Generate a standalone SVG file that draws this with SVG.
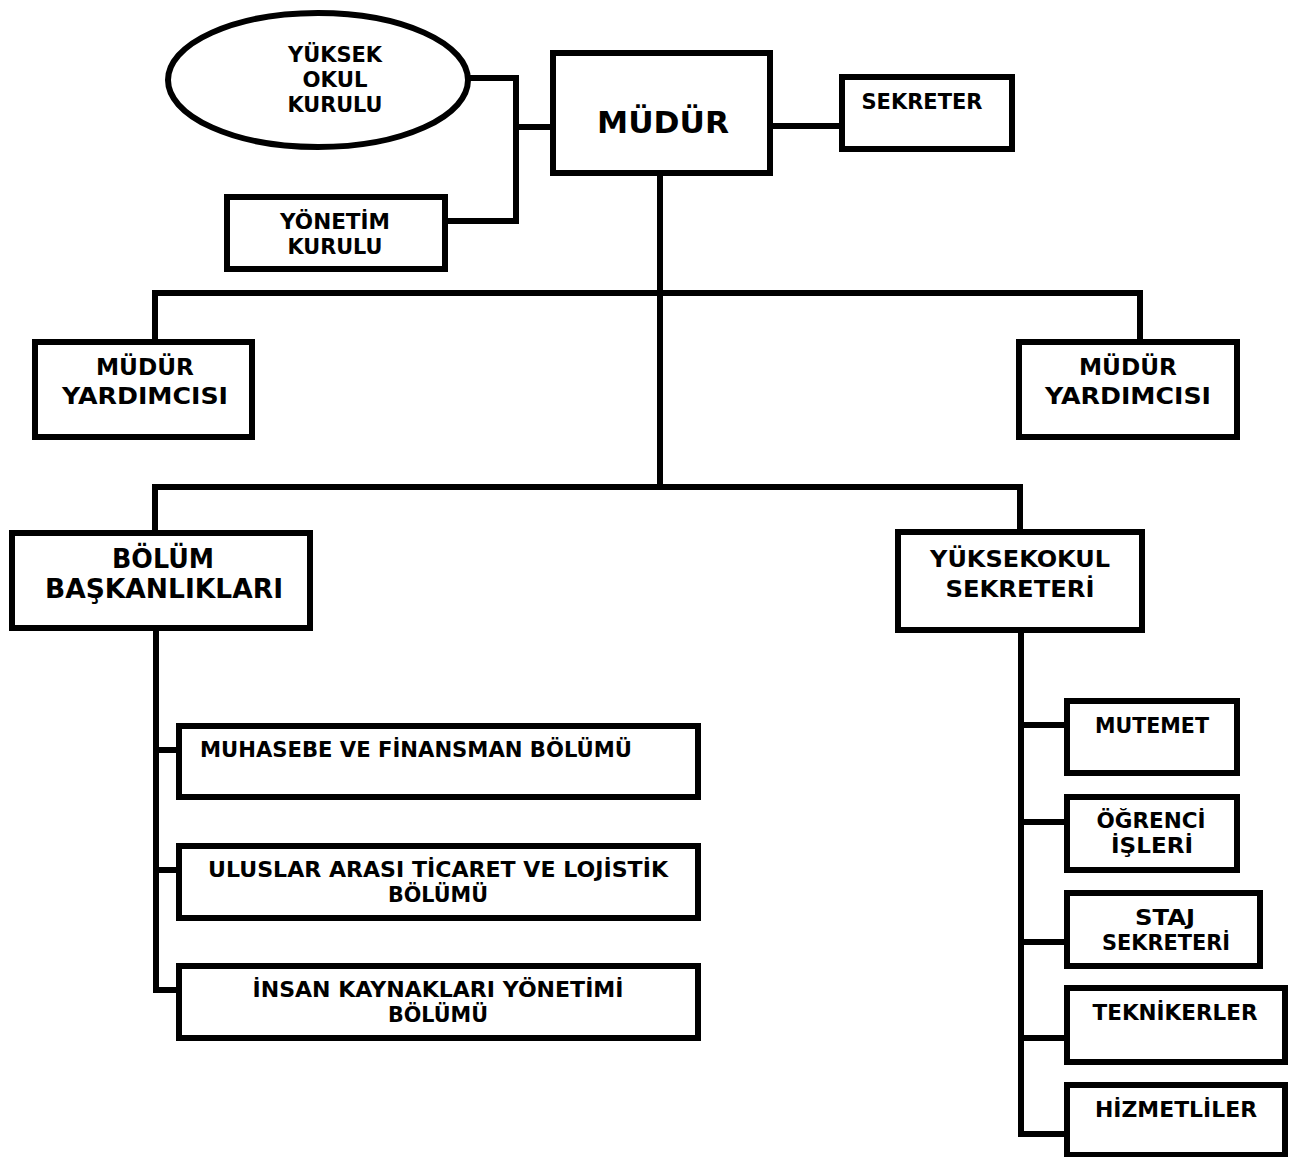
<svg xmlns="http://www.w3.org/2000/svg" width="1297" height="1157" viewBox="0 0 1297 1157">
<style>
.box{fill:#fff;stroke:#000;stroke-width:6}
.ln{fill:none;stroke:#000;stroke-width:6;stroke-linejoin:miter;stroke-linecap:butt}
text{font-family:"DejaVu Sans","Verdana",sans-serif;font-weight:bold;fill:#000;text-anchor:middle}
.s19{font-size:20.5px}.s20{font-size:21px}.s22{font-size:23px}.s25{font-size:26px}.s31{font-size:31px}
</style>
<rect width="1297" height="1157" fill="#fff"/>
<g id="connectors">
<path class="ln" d="M468,78 H516 V221 H445"/>
<path class="ln" d="M516,127 H553"/>
<path class="ln" d="M770,126 H842"/>
<path class="ln" d="M660,173 V487"/>
<path class="ln" d="M155,342 V293 H1140 V342"/>
<path class="ln" d="M155,533 V487 H1020 V532"/>
<path class="ln" d="M156,628 V990 H179"/>
<path class="ln" d="M153,750 H179"/>
<path class="ln" d="M153,870 H179"/>
<path class="ln" d="M1021,630 V1134 H1067"/>
<path class="ln" d="M1018,725 H1067"/>
<path class="ln" d="M1018,822 H1067"/>
<path class="ln" d="M1018,942 H1067"/>
<path class="ln" d="M1018,1038 H1067"/>
</g>
<g id="yuksek-okul-kurulu">
<ellipse class="box" cx="318" cy="80" rx="150" ry="67"/>
<text class="s20" x="335" y="62" textLength="94" lengthAdjust="spacingAndGlyphs">YÜKSEK</text>
<text class="s20" x="335" y="87" textLength="65" lengthAdjust="spacingAndGlyphs">OKUL</text>
<text class="s20" x="335" y="112" textLength="95" lengthAdjust="spacingAndGlyphs">KURULU</text>
</g>
<g id="yonetim-kurulu">
<rect class="box" x="227" y="197" width="218" height="72"/>
<text class="s20" x="335" y="229" textLength="110" lengthAdjust="spacingAndGlyphs">YÖNETİM</text>
<text class="s20" x="335" y="254" textLength="95" lengthAdjust="spacingAndGlyphs">KURULU</text>
</g>
<g id="mudur">
<rect class="box" x="553" y="53" width="217" height="120"/>
<text class="s31" x="663" y="133" textLength="132" lengthAdjust="spacingAndGlyphs">MÜDÜR</text>
</g>
<g id="sekreter">
<rect class="box" x="842" y="77" width="170" height="72"/>
<text class="s20" x="922" y="109" textLength="121" lengthAdjust="spacingAndGlyphs">SEKRETER</text>
</g>
<g id="mudur-yardimcisi-1">
<rect class="box" x="35" y="342" width="217" height="95"/>
<text class="s22" x="145" y="375" textLength="98" lengthAdjust="spacingAndGlyphs">MÜDÜR</text>
<text class="s22" x="145" y="404" textLength="166" lengthAdjust="spacingAndGlyphs">YARDIMCISI</text>
</g>
<g id="mudur-yardimcisi-2">
<rect class="box" x="1019" y="342" width="218" height="95"/>
<text class="s22" x="1128" y="375" textLength="98" lengthAdjust="spacingAndGlyphs">MÜDÜR</text>
<text class="s22" x="1128" y="404" textLength="166" lengthAdjust="spacingAndGlyphs">YARDIMCISI</text>
</g>
<g id="bolum-baskanliklari">
<rect class="box" x="12" y="533" width="298" height="95"/>
<text class="s25" x="163" y="568" textLength="102" lengthAdjust="spacingAndGlyphs">BÖLÜM</text>
<text class="s25" x="164" y="598" textLength="238" lengthAdjust="spacingAndGlyphs">BAŞKANLIKLARI</text>
</g>
<g id="yuksekokul-sekreteri">
<rect class="box" x="898" y="532" width="244" height="98"/>
<text class="s22" x="1020" y="567" textLength="180" lengthAdjust="spacingAndGlyphs">YÜKSEKOKUL</text>
<text class="s22" x="1020" y="597" textLength="149" lengthAdjust="spacingAndGlyphs">SEKRETERİ</text>
</g>
<g id="muhasebe">
<rect class="box" x="179" y="726" width="519" height="71"/>
<text class="s19" x="416" y="757" textLength="432" lengthAdjust="spacingAndGlyphs">MUHASEBE VE FİNANSMAN BÖLÜMÜ</text>
</g>
<g id="uluslar-arasi">
<rect class="box" x="179" y="846" width="519" height="72"/>
<text class="s19" x="438" y="877" textLength="460" lengthAdjust="spacingAndGlyphs">ULUSLAR ARASI TİCARET VE LOJİSTİK</text>
<text class="s19" x="438" y="902" textLength="100" lengthAdjust="spacingAndGlyphs">BÖLÜMÜ</text>
</g>
<g id="insan-kaynaklari">
<rect class="box" x="179" y="966" width="519" height="72"/>
<text class="s19" x="438" y="997" textLength="371" lengthAdjust="spacingAndGlyphs">İNSAN KAYNAKLARI YÖNETİMİ</text>
<text class="s19" x="438" y="1022" textLength="100" lengthAdjust="spacingAndGlyphs">BÖLÜMÜ</text>
</g>
<g id="mutemet">
<rect class="box" x="1067" y="701" width="170" height="72"/>
<text class="s19" x="1152" y="733" textLength="114" lengthAdjust="spacingAndGlyphs">MUTEMET</text>
</g>
<g id="ogrenci-isleri">
<rect class="box" x="1067" y="797" width="170" height="73"/>
<text class="s19" x="1151" y="828" textLength="109" lengthAdjust="spacingAndGlyphs">ÖĞRENCİ</text>
<text class="s19" x="1152" y="853" textLength="82" lengthAdjust="spacingAndGlyphs">İŞLERİ</text>
</g>
<g id="staj-sekreteri">
<rect class="box" x="1067" y="893" width="193" height="73"/>
<text class="s19" x="1165" y="925" textLength="60" lengthAdjust="spacingAndGlyphs">STAJ</text>
<text class="s19" x="1166" y="950" textLength="128" lengthAdjust="spacingAndGlyphs">SEKRETERİ</text>
</g>
<g id="teknikerler">
<rect class="box" x="1067" y="988" width="218" height="74"/>
<text class="s19" x="1175" y="1020" textLength="165" lengthAdjust="spacingAndGlyphs">TEKNİKERLER</text>
</g>
<g id="hizmetliler">
<rect class="box" x="1067" y="1085" width="218" height="70"/>
<text class="s19" x="1176" y="1117" textLength="162" lengthAdjust="spacingAndGlyphs">HİZMETLİLER</text>
</g>
</svg>
